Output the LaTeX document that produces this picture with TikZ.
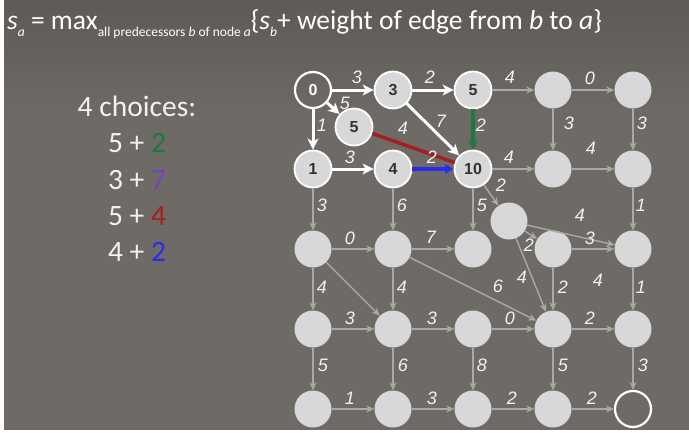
\documentclass[tikz,border=0pt]{standalone}
\usepackage{fontspec}
\setmainfont{Carlito}
\newfontfamily\arialf{Liberation Sans}
\usetikzlibrary{arrows.meta}
\definecolor{bg}{HTML}{6E6A65}
\definecolor{bgtop}{HTML}{5E5B57}
\definecolor{edgegray}{HTML}{ABA9A6}
\definecolor{nodegray}{HTML}{D8D8D8}
\definecolor{grn}{HTML}{1E7A3C}
\definecolor{rd}{HTML}{A51E22}
\definecolor{bl}{HTML}{2A2AF0}
\definecolor{prp}{HTML}{7A40C0}
\tikzset{
  lnode/.style={circle, fill=nodegray, draw=white, line width=1.8pt, minimum size=37pt, inner sep=0pt, font=\arialf\bfseries\fontsize{16}{16}\selectfont, text=black!80},
  gnode/.style={circle, fill=nodegray, minimum size=37pt, inner sep=0pt},
  onode/.style={circle, draw=white, line width=2.2pt, minimum size=36pt, inner sep=0pt, font=\arialf\bfseries\fontsize{16}{16}\selectfont, text=white},
  gedge/.style={draw=edgegray, line width=1.4pt, -{Stealth[length=8pt,width=7pt,inset=2.5pt]}},
  wedge/.style={draw=white, line width=3pt, -{Stealth[length=11pt,width=11pt,inset=3pt]}},
  wlab/.style={font=\arialf\itshape\fontsize{18}{18}\selectfont, text=white!95!black, inner sep=0pt},
  ltxt/.style={font=\fontsize{29.5}{32}\selectfont, text=white!95!black, inner sep=0pt}
}
\begin{document}
\begin{tikzpicture}[x=1pt,y=-1pt]
\useasboundingbox (0,0) rectangle (689,432);
\fill[white] (0,0) rectangle (689,432);
\shade[top color=bgtop, bottom color=bg] (4,0) rectangle (689,120);
\fill[bg] (4,119.5) rectangle (689,430);

% title
\node[anchor=base west, inner sep=0pt, text=white] (title) at (7,29)
 {\fontsize{27.5}{32}\selectfont\textit{s}\raisebox{-7.5pt}{\fontsize{13.5}{13.5}\selectfont\textit{a}} = max\raisebox{-7.5pt}{\fontsize{13.5}{13.5}\selectfont all predecessors \textit{b} of node \textit{a}}\{\textit{s}\raisebox{-7.5pt}{\fontsize{13.5}{13.5}\selectfont\textit{b}}+ weight of edge from \textit{b} to \textit{a}\}};

% left text
\node[ltxt] (ch) at (137,106) {4 choices:};
\node[ltxt] (c1) at (137,143) {5 + \textcolor{grn}{2}};
\node[ltxt] (c2) at (137,180) {3 + \textcolor{prp}{7}};
\node[ltxt] (c3) at (137,216) {5 + \textcolor{rd}{4}};
\node[ltxt] (c4) at (137,252) {4 + \textcolor{bl}{2}};

% nodes
\node[onode] (n00) at (313,90) {0};
\node[lnode] (n01) at (393,90) {3};
\node[lnode] (n02) at (473,90) {5};
\node[gnode] (n03) at (553,90) {};
\node[gnode] (n04) at (633,90) {};
\node[lnode] (na) at (354,127) {5};
\node[lnode] (n10) at (313,169) {1};
\node[lnode] (n11) at (393,169) {4};
\node[lnode] (n12) at (473,169) {10};
\node[gnode] (n13) at (553,169) {};
\node[gnode] (n14) at (633,169) {};
\node[gnode] (nb) at (509,221) {};
\node[gnode] (n20) at (313,249) {};
\node[gnode] (n21) at (393,249) {};
\node[gnode] (n22) at (473,249) {};
\node[gnode] (n23) at (553,249) {};
\node[gnode] (n24) at (633,249) {};
\node[gnode] (n30) at (313,329) {};
\node[gnode] (n31) at (393,329) {};
\node[gnode] (n32) at (473,329) {};
\node[gnode] (n33) at (553,329) {};
\node[gnode] (n34) at (633,329) {};
\node[gnode] (n40) at (313,409) {};
\node[gnode] (n41) at (393,409) {};
\node[gnode] (n42) at (473,409) {};
\node[gnode] (n43) at (553,409) {};
\node[onode] (n44) at (633,409) {};

% gray edges
\draw[gedge] (n02) -- (n03);
\draw[gedge] (n03) -- (n04);
\draw[gedge] (n03) -- (n13);
\draw[gedge] (n04) -- (n14);
\draw[gedge] (n12) -- (n13);
\draw[gedge] (n13) -- (n14);
\draw[gedge] (n12) -- (nb);
\draw[gedge] (n12) -- (n22);
\draw[gedge] (n10) -- (n20);
\draw[gedge] (n11) -- (n21);
\draw[gedge] (n14) -- (n24);
\draw[gedge] (nb) -- (n24);
\draw[gedge] (nb) -- (n23);
\draw[gedge] (nb) -- (n33);
\draw[gedge] (n23) -- (n24);
\draw[gedge] (n20) -- (n21);
\draw[gedge] (n21) -- (n22);
\draw[gedge] (n20) -- (n30);
\draw[gedge] (n20) -- (n31);
\draw[gedge] (n21) -- (n31);
\draw[gedge] (n21) -- (n33);
\draw[gedge] (n23) -- (n33);
\draw[gedge] (n24) -- (n34);
\draw[gedge] (n30) -- (n31);
\draw[gedge] (n31) -- (n32);
\draw[gedge] (n32) -- (n33);
\draw[gedge] (n33) -- (n34);
\draw[gedge] (n30) -- (n40);
\draw[gedge] (n31) -- (n41);
\draw[gedge] (n32) -- (n42);
\draw[gedge] (n33) -- (n43);
\draw[gedge] (n34) -- (n44);
\draw[gedge] (n40) -- (n41);
\draw[gedge] (n41) -- (n42);
\draw[gedge] (n42) -- (n43);
\draw[gedge] (n43) -- (n44);

% coloured edges
\draw[draw=rd, line width=3.5pt] (na) -- (n12);
\draw[draw=grn, line width=3.5pt, -{Stealth[length=9pt,width=10pt,inset=2pt]}] (n02) -- (n12);
\draw[draw=bl, line width=3.5pt, -{Stealth[length=9pt,width=10pt,inset=2pt]}] (n11) -- (n12);

% white edges
\draw[wedge] (n00) -- (n01);
\draw[wedge] (n01) -- (n02);
\draw[wedge] (n00) -- (na);
\draw[wedge] (n00) -- (n10);
\draw[wedge] (n01) -- (n12);
\draw[wedge] (n10) -- (n11);

% edge labels
\foreach \x/\y/\t [count=\i] in {357/77/3, 430/77/2, 345/103/5, 322/125/1, 441/121/7, 403/128/4, 481/125/2, 350/157/3, 432/157/2,
  510/77/4, 590/78/0, 569/123/3, 642/123/3, 509/157/4, 591/148/4, 501/185/2, 482/205/5,
  322/205/3, 402/205/6, 641/205/1, 580/215/4, 529/245/2, 590/238/3, 522/277/4, 598/280/4, 350/238/0, 431/237/7,
  322/287/4, 402/287/4, 498/286/6, 563/287/2, 641/287/1,
  350/318/3, 432/318/3, 510/318/0, 590/318/2,
  323/365/5, 403/365/6, 482/365/8, 563/365/5, 643/365/3,
  350/398/1, 432/398/3, 512/398/2, 592/398/2}
  \node[wlab] (lab\i) at (\x,\y) {\t};
\end{tikzpicture}
\end{document}
